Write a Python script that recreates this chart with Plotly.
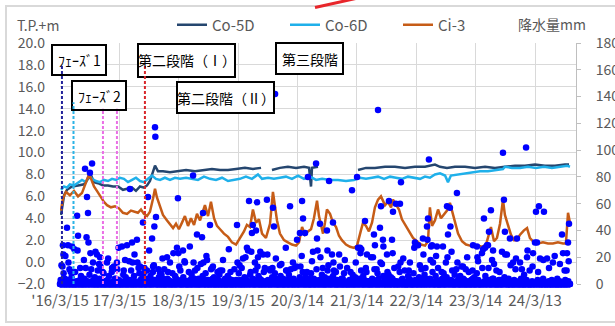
import pandas as pd
import plotly.graph_objects as go

# Observation start; all day numbers below count days from this date
START = pd.Timestamp("2016-03-15")
LAST_DAY = 3135

# Groundwater level (T.P.+m)
co5d_day = [6, 12, 25, 43, 74, 111, 148, 172, 191, 209, 234, 264, 295, 326, 357, 387, 418, 443, 467, 492,
            516, 535, 553, 572, 584, 602, 633, 676, 725, 775, 830, 885, 934, 984, 1033, 1082, 1137, 1186, 1236, 1242,
            1303, 1352, 1401, 1451, 1500, 1531, 1543, 1549, 1586, 1592, 1832, 1881, 1936, 1998, 2059, 2121, 2182, 2244,
            2305, 2336, 2379, 2428, 2490, 2551, 2613, 2674, 2735, 2797, 2858, 2920, 2981, 3043, 3104, 3129]
co5d_lv = [4.3, 4.9, 6.1, 6.6, 6.9, 7.0, 7.1, 7.6, 7.9, 7.3, 7.2, 7.0, 7.0, 6.9, 6.9, 6.6, 6.7, 6.8, 6.5, 6.9,
           6.8, 7.0, 7.4, 8.2, 8.8, 8.3, 8.3, 8.2, 8.3, 8.4, 8.3, 8.4, 8.5, 8.4, 8.4, 8.5, 8.6, 8.5, 8.6, None,
           8.4, 8.6, 8.7, 8.6, 8.7, 8.6, 6.9, 8.6, 8.7, None, 8.4, 8.6, 8.6, 8.7, 8.7, 8.6, 8.7, 8.7,
           8.9, 8.7, 8.6, 8.7, 8.7, 8.6, 8.7, 8.6, 8.7, 8.8, 8.8, 8.9, 8.8, 8.8, 8.9, 8.9]

co6d_day = [6, 25, 43, 61, 86, 111, 135, 160, 178, 197, 221, 246, 270, 295, 320, 344, 369, 393, 418, 443,
            467, 492, 516, 541, 566, 590, 615, 645, 676, 707, 738, 775, 811, 848, 885, 922, 959, 996, 1033, 1070,
            1106, 1143, 1180, 1217, 1242, 1279, 1315, 1352, 1389, 1426, 1463, 1500, 1537, 1574, 1611, 1660, 1709,
            1758, 1807, 1844, 1881, 1918, 1955, 1992, 2029, 2065, 2102, 2139, 2176, 2213, 2244, 2274, 2305, 2336,
            2367, 2385, 2403, 2447, 2490, 2533, 2582, 2631, 2680, 2723, 2735, 2778, 2828, 2877, 2926, 2975, 3024,
            3074, 3117, 3135]
co6d_lv = [6.6, 6.9, 6.8, 7.1, 7.0, 7.3, 7.5, 7.3, 7.9, 7.6, 7.4, 7.3, 7.5, 7.4, 7.6, 7.5, 7.7, 7.6, 7.3, 7.5,
           7.7, 7.4, 7.3, 7.6, 7.9, 7.6, 7.5, 7.7, 7.5, 7.7, 7.6, 7.7, 7.6, 7.5, 7.8, 7.6, 7.5, 7.7, 7.4, 7.5,
           7.6, 7.8, 7.6, 8.0, 7.6, 7.7, 7.6, 7.7, 7.8, 7.6, 7.9, 7.6, 7.8, 7.5, 7.6, 7.5, 7.5,
           7.4, 7.5, 7.7, 7.6, 7.7, 7.8, 7.6, 7.8, 7.7, 7.6, 7.8, 7.7, 7.6, 7.8, 7.7, 8.0, 8.1,
           7.9, 7.3, 7.9, 8.0, 8.1, 8.2, 8.3, 8.3, 8.4, 8.5, 8.7, 8.6, 8.6, 8.7, 8.6, 8.7, 8.6,
           8.7, 8.8, 8.7]

ci3_day = [6, 18, 37, 61, 86, 111, 135, 160, 178, 191, 209, 227, 246, 270, 289, 313, 338, 363, 387, 412,
           436, 461, 479, 498, 516, 535, 553, 572, 584, 596, 615, 633, 658, 676, 695, 713, 731, 750, 768, 787,
           805, 824, 842, 861, 879, 891, 910, 928, 947, 965, 984, 1008, 1033, 1057, 1082, 1106, 1131, 1149, 1168, 1186,
           1205, 1223, 1242, 1266, 1291, 1309, 1322, 1334, 1352, 1377, 1401, 1426, 1451, 1469, 1488, 1506, 1524, 1543,
           1561, 1580, 1592, 1604, 1617, 1629, 1641, 1660, 1678, 1697, 1715, 1733, 1758, 1783, 1807, 1826, 1838, 1850,
           1863, 1881, 1899, 1918, 1936, 1955, 1973, 1985, 1998, 2016, 2035, 2047, 2065, 2084, 2102, 2121, 2145, 2170,
           2194, 2219, 2244, 2262, 2274, 2287, 2305, 2324, 2342, 2360, 2379, 2397, 2410, 2428, 2447, 2471, 2496, 2520,
           2545, 2569, 2594, 2619, 2637, 2649, 2668, 2686, 2705, 2723, 2735, 2754, 2772, 2791, 2809, 2828, 2852, 2871,
           2889, 2914, 2938, 2969, 3000, 3030, 3061, 3092, 3110, 3123, 3135]
ci3_lv = [4.7, 5.8, 6.4, 6.1, 6.5, 6.0, 6.3, 7.2, 8.0, 7.6, 6.9, 6.5, 6.0, 5.5, 5.2, 5.0, 5.1, 4.9, 4.5, 4.4,
          4.7, 4.6, 4.5, 4.8, 4.4, 4.2, 4.6, 5.8, 6.7, 5.9, 5.0, 4.3, 3.8, 3.4, 3.1, 3.5, 3.0, 3.6, 4.2, 3.3,
          4.0, 3.4, 4.4, 3.8, 4.6, 5.2, 4.2, 5.5, 4.0, 3.3, 3.0, 2.6, 2.3, 1.8, 1.6, 2.2, 2.8, 3.4, 3.2, 4.8,
          3.6, 3.9, 2.6, 2.2, 3.5, 6.4, 4.8, 3.8, 2.6, 2.0, 1.8, 1.6, 1.5, 1.8, 3.2, 2.5, 2.8, 3.0,
          4.0, 5.6, 4.2, 3.4, 2.6, 3.6, 4.8, 4.4, 3.6, 3.2, 2.4, 2.0, 1.6, 1.4, 1.3, 1.5, 2.3, 2.9,
          3.6, 3.3, 2.8, 3.6, 5.0, 5.7, 6.0, 5.6, 5.2, 5.5, 5.0, 5.7, 5.2, 4.8, 3.9, 3.4, 2.8, 2.2,
          1.9, 1.6, 1.5, 1.9, 5.0, 3.3, 3.8, 4.8, 4.0, 4.4, 4.7, 5.4, 4.6, 3.5, 2.6, 1.9, 1.6, 1.5,
          1.4, 1.5, 1.4, 1.6, 2.6, 3.2, 1.9, 2.2, 3.5, 5.7, 4.3, 3.4, 2.5, 2.0, 2.0, 2.5, 2.9, 3.1,
          2.2, 1.8, 1.7, 1.8, 1.7, 1.7, 1.8, 1.7, 1.7, 4.5, 3.6]

# Daily rainfall (mm): days with notable rain
rain_day = [584, 586, 1322, 1955, 2723, 2865, 2268, 2440, 1574, 1524, 1654, 1795, 1826, 2096, 154, 197, 184, 166,
            105, 172, 430, 541, 590, 580, 725, 818, 879, 922, 1088, 510, 43,
            1162, 1211, 1272, 1309, 1414, 1488, 1494, 1315, 1186, 1205, 1180, 1457, 1475, 1598, 1580, 1641, 1678,
            1875, 1930, 1967, 1973, 2022, 2047, 2065, 2090, 1985, 2041, 1936, 1149, 1844, 2256, 2231, 2182,
            2262, 2281, 2317, 2354, 2379, 2397, 2385, 2400, 2563, 2606, 2649, 2637, 2631, 2613, 2729, 2735, 2766,
            2809, 2920, 2932, 2926, 2944, 2975, 3086, 3129, 3123,
            18, 49, 74, 108, 163, 175, 111, 21, 52, 15, 187, 227, 246, 203, 249, 289, 320, 350, 381, 412, 443, 473,
            400, 446, 476, 492, 535, 566, 572, 615, 658, 676, 719, 728, 756, 768, 821, 842, 873, 882, 904, 940, 984,
            1091, 1125, 1156, 1176, 1217, 1248, 1275, 1214, 1306, 1352, 1395, 1432, 1478,
            1506, 1555, 1601, 1644, 1672, 1681, 1721, 1832, 1847, 1887, 1924, 1970, 2010, 1988, 2093, 2151, 2201,
            2234, 2259, 2287, 2293, 2382, 2443, 2477, 2539, 2566, 2594, 2625, 2656, 2662, 2717, 2748, 2785, 2828,
            2871, 2908, 2951, 2994, 3030, 3092, 3117, 3114]
rain_mm = [117, 110, 142, 130, 98, 102, 93, 68, 90, 80, 77, 70, 80, 76, 86, 90, 83, 65,
           51, 53, 71, 65, 50, 43, 64, 81, 53, 44, 44, 46, 42,
           62, 61, 63, 57, 58, 62, 49, 43, 44, 40, 38, 33, 38, 45, 34, 40, 46,
           47, 37, 42, 58, 62, 54, 60, 60, 33, 33, 29, 27, 27, 43, 34, 31,
           49, 28, 28, 28, 58, 57, 37, 43, 28, 49, 55, 39, 29, 27, 63, 39, 34,
           34, 31, 31, 54, 58, 54, 37, 45, 31,
           29, 29, 28, 25, 35, 31, 36, 22, 16, 13, 23, 22, 20, 16, 13, 16, 12, 16, 28, 29, 31, 33,
           18, 16, 16, 13, 10, 34, 13, 8, 20, 16, 27, 23, 25, 16, 16, 37, 35, 16, 18, 13, 10,
           16, 19, 25, 24, 20, 22, 22, 13, 12, 14, 10, 16, 13,
           38, 24, 20, 25, 22, 16, 13, 27, 23, 22, 20, 16, 22, 28, 16, 16, 29,
           22, 33, 29, 16, 20, 16, 13, 29, 20, 23, 29, 18, 25, 24, 22, 16, 16,
           20, 23, 19, 19, 16, 23, 23, 10]

# Moderate-rain days (mm)
mid_day = [9, 33, 66, 88, 124, 147, 192, 218, 240, 262, 296, 331, 360, 392, 425, 458, 483, 514, 548, 577,
           605, 630, 664, 697, 733, 765, 798, 830, 866, 900, 935, 968, 1002, 1038, 1072, 1104, 1140, 1172, 1198,
           1231, 1259, 1292, 1327, 1361, 1388, 1419, 1452, 1486, 1518, 1549, 1583, 1615, 1650, 1684, 1716, 1751,
           1786, 1818, 1852, 1880, 1912, 1946, 1979, 2013, 2045, 2079, 2110, 2144, 2178, 2212, 2247, 2278, 2312,
           2346, 2372, 2407, 2436, 2468, 2503, 2536, 2570, 2601, 2634, 2668, 2702, 2737, 2770, 2803, 2839, 2874,
           2905, 2939, 2971, 3006, 3041, 3073, 3102, 3127]
mid_mm = [14, 21, 9, 26, 12, 18, 11, 24, 15, 9, 19, 13, 27, 10, 17, 22, 12, 8, 25, 14,
          11, 19, 9, 23, 13, 17, 28, 10, 15, 21, 12, 9, 18, 26, 11, 14, 20, 9, 16,
          24, 12, 10, 19, 15, 27, 11, 13, 21, 9, 17, 25, 12, 14, 10, 22, 18,
          9, 16, 26, 12, 20, 11, 15, 9, 23, 13, 19, 10, 27, 14, 12, 18, 21,
          9, 16, 24, 11, 13, 20, 10, 17, 26, 12, 15, 9, 22, 14, 19, 11, 25,
          13, 9, 18, 12, 21, 15, 10, 17]

# Light-rain days (mm)
light_day = [4, 22, 37, 58, 71, 93, 116, 129, 141, 158, 181, 199, 214, 232, 255, 268, 283, 301, 318, 337,
             352, 370, 389, 404, 421, 437, 455, 469, 488, 503, 519, 538, 556, 571, 593, 608, 624, 641, 660, 673,
             691, 707, 722, 740, 758, 776, 792, 809, 826, 845, 861, 877, 895, 912, 929, 947, 963, 980, 997, 1015,
             1031, 1048, 1066, 1083, 1099, 1117, 1134, 1151, 1169, 1185, 1202, 1220, 1237, 1253, 1271, 1288, 1304,
             1321, 1339, 1356, 1372, 1390, 1407, 1423, 1441, 1458, 1474, 1492, 1509, 1525, 1543, 1560, 1577, 1594,
             1610, 1628, 1645, 1662, 1679, 1696, 1713, 1731, 1746, 1765, 1780, 1799, 1814, 1833, 1851, 1864, 1884,
             1898, 1919, 1933, 1952, 1967, 1987, 2001, 2020, 2034, 2055, 2069, 2088, 2105, 2119, 2140, 2154, 2173,
             2188, 2207, 2222, 2241, 2256, 2275, 2290, 2309, 2324, 2343, 2358, 2377, 2392, 2411, 2426, 2445, 2460,
             2479, 2494, 2513, 2528, 2547, 2562, 2581, 2596, 2615, 2630, 2649, 2664, 2683, 2698, 2717, 2732, 2751,
             2766, 2785, 2800, 2819, 2834, 2853, 2868, 2887, 2902, 2921, 2936, 2955, 2970, 2989, 3004, 3023, 3038,
             3057, 3072, 3091, 3106, 3125]
light_mm = [3, 8, 2, 11, 5, 9, 1, 6, 4, 12, 7, 2, 5, 10, 3, 8, 1, 6, 9, 4,
            11, 2, 7, 5, 3, 10, 6, 1, 8, 4, 12, 3, 6, 9, 2, 5, 7, 11, 4, 1,
            8, 6, 3, 10, 5, 2, 9, 7, 4, 12, 1, 6, 8, 3, 11, 5, 2, 7, 10, 4,
            6, 9, 1, 3, 8, 12, 5, 2, 7, 4, 10, 6, 3, 9, 1, 11, 5, 8, 2, 6,
            4, 10, 7, 3, 12, 1, 5, 9, 6, 2, 8, 4, 11, 3, 7, 5, 10, 1, 6, 9,
            2, 4, 8, 12, 3, 7, 5, 1, 10, 6, 9, 2, 4, 11, 8, 3, 6, 1, 7, 5,
            12, 2, 9, 4, 10, 6, 3, 8, 1, 5, 11, 7, 2, 4, 9, 6, 12, 3, 8, 5,
            1, 10, 7, 2, 6, 4, 11, 9, 3, 5, 8, 1, 12, 6, 2, 7, 4, 10, 3, 9,
            5, 1, 8, 6, 11, 2, 4, 7, 3, 10]

# Drizzle days (mm)
drizzle_day = [12, 30, 47, 64, 82, 101, 122, 135, 150, 169, 190, 206, 223, 243, 261, 276, 292, 309, 327, 344,
               361, 379, 396, 413, 429, 446, 462, 479, 495, 511, 528, 547, 563, 582, 600, 616, 632, 650, 666, 682,
               699, 714, 731, 749, 767, 784, 800, 817, 835, 853, 869, 886, 903, 920, 938, 955, 971, 988, 1006, 1023,
               1039, 1057, 1074, 1094, 1108, 1126, 1142, 1160, 1177, 1194, 1209, 1228, 1245, 1262, 1279, 1296, 1313,
               1330, 1347, 1364, 1381, 1398, 1415, 1436, 1449, 1466, 1483, 1500, 1517, 1534, 1551, 1568, 1588, 1606,
               1619, 1636, 1657, 1670, 1690, 1704, 1725, 1738, 1755, 1772, 1789, 1806, 1823, 1840, 1857, 1871, 1891,
               1908, 1928, 1942, 1959, 1976, 1993, 2006, 2027, 2044, 2061, 2078, 2099, 2112, 2129, 2146, 2163, 2185,
               2197, 2214, 2228, 2248, 2265, 2284, 2299, 2314, 2333, 2350, 2367, 2389, 2404, 2418, 2435, 2452, 2469,
               2486, 2508, 2520, 2537, 2554, 2571, 2588, 2609, 2622, 2641, 2659, 2673, 2690, 2707, 2726, 2741, 2758,
               2775, 2792, 2812, 2826, 2843, 2860, 2880, 2894, 2911, 2929, 2947, 2962, 2979, 2999, 3013, 3033, 3047,
               3064, 3081, 3098, 3111, 3131]
drizzle_mm = [2, 1, 3, 2, 4, 1, 2, 3, 1, 4, 2, 1, 3, 2, 1, 4, 3, 2, 1, 2,
              3, 1, 4, 2, 1, 3, 2, 4, 1, 2, 3, 1, 2, 4, 3, 1, 2, 1, 3, 4,
              2, 1, 3, 2, 4, 1, 2, 3, 1, 2, 4, 1, 3, 2, 1, 4, 2, 3, 1, 2,
              3, 2, 1, 4, 2, 1, 3, 2, 4, 1, 3, 2, 1, 2, 4, 3, 1,
              2, 3, 1, 4, 2, 1, 3, 2, 4, 1, 2, 3, 1, 2, 4, 3,
              1, 2, 3, 1, 4, 2, 1, 3, 2, 1, 4, 2, 3, 1, 2, 3, 1,
              4, 2, 1, 3, 2, 4, 1, 2, 3, 1, 2, 4, 1, 3, 2, 1,
              3, 2, 4, 1, 2, 3, 1, 4, 2, 1, 3, 2, 1, 4, 2, 3,
              1, 2, 3, 4, 1, 2, 1, 3, 2, 4, 1, 2, 3, 1, 2, 4,
              1, 3, 2, 1, 4, 2, 3, 1, 2, 1, 3, 4, 2, 1, 3, 2,
              1, 4, 2, 3, 1]

# Construction phase boundaries (vertical dashed markers)
phase_day = [12, 83, 264, 350, 522]
phase_top = [18.0, 14.6, 14.0, 14.0, 17.9]
phase_color = ["#23239b", "#2bb3e6", "#ea6fe6", "#ea6fe6", "#d8272b"]

# Year ticks
tick_day = [0, 365, 730, 1095, 1460, 1825, 2190, 2555, 2920]
tick_text = ["'16/3/15", "17/3/15", "18/3/15", "19/3/15", "20/3/14", "21/3/14", "22/3/14", "23/3/14", "24/3/13"]
AXIS_END_DAY = 3172


def to_dates(days):
    return [START + pd.Timedelta(days=int(d)) for d in days]


# daily rainfall record; days without listed rain are dry (0 mm)
rain_by_day = {}
for d, mm in zip(rain_day + mid_day + light_day + drizzle_day, rain_mm + mid_mm + light_mm + drizzle_mm):
    rain_by_day[d] = max(mm, rain_by_day.get(d, 0))
all_days = list(range(0, LAST_DAY + 1))
rain_daily = [rain_by_day.get(d, 0) for d in all_days]

FONT = "Noto Sans CJK JP"
GREY = "#595959"
W, H = 615, 326
PL, PT, PW, PH = 60, 43, 516, 241


def fx(xp):
    return (xp - PL) / PW


def fy(yp):
    return (PT + PH - yp) / PH


fig = go.Figure()
fig.add_trace(go.Scatter(x=to_dates(co5d_day), y=co5d_lv, name="Co-5D", mode="lines",
                         line=dict(color="#25466f", width=2.5), connectgaps=False))
fig.add_trace(go.Scatter(x=to_dates(co6d_day), y=co6d_lv, name="Co-6D", mode="lines",
                         line=dict(color="#1fb0ea", width=2.5)))
fig.add_trace(go.Scatter(x=to_dates(ci3_day), y=ci3_lv, name="Ci-3", mode="lines",
                         line=dict(color="#c65c17", width=2.5)))
fig.add_trace(go.Scatter(x=to_dates(all_days), y=rain_daily, name="降水量", mode="markers",
                         marker=dict(color="#0000ff", size=6.5, line=dict(width=0)),
                         yaxis="y2", showlegend=False, cliponaxis=False))

shapes = []
# outer chart frame
shapes.append(dict(type="rect", xref="paper", yref="paper", x0=fx(6), x1=fx(625), y0=fy(322), y1=fy(6),
                   line=dict(color="#d9d9d9", width=2), fillcolor="rgba(0,0,0,0)", layer="below"))

# phase label boxes
boxes = [
    ("ﾌｪｰｽﾞ1", 52, 106, 45, 75),
    ("ﾌｪｰｽﾞ2", 72, 126, 81, 110),
    ("第二段階（Ⅰ）", 138, 235, 44, 77),
    ("第二段階（Ⅱ）", 177, 274, 82, 113),
    ("第三段階", 276, 343, 43, 74),
]
annotations = []
for text, x0, x1, y0, y1 in boxes:
    shapes.append(dict(type="rect", xref="paper", yref="paper", x0=fx(x0), x1=fx(x1), y0=fy(y1), y1=fy(y0),
                       line=dict(color="black", width=2), fillcolor="white", layer="above"))
    annotations.append(dict(text=text, xref="paper", yref="paper", x=fx((x0 + x1) / 2), y=fy((y0 + y1) / 2),
                            xanchor="center", yanchor="middle", showarrow=False,
                            font=dict(family=FONT, size=14, color="black")))

for d, top, col in zip(phase_day, phase_top, phase_color):
    dt = START + pd.Timedelta(days=d)
    shapes.append(dict(type="line", xref="x", yref="y", x0=dt, x1=dt, y0=-2.0, y1=top,
                       line=dict(color=col, width=2, dash="3px,2px"), layer="above"))

# red stroke crossing the top edge
shapes.append(dict(type="line", xref="paper", yref="paper", x0=fx(315), y0=fy(7.5), x1=fx(358), y1=fy(-2),
                   line=dict(color="#e8262b", width=3), layer="above"))

annotations.append(dict(text="T.P.+m", xref="paper", yref="paper", x=fx(38), y=fy(25), xanchor="center",
                        yanchor="middle", showarrow=False, font=dict(family=FONT, size=14, color=GREY)))
annotations.append(dict(text="降水量mm", xref="paper", yref="paper", x=fx(552), y=fy(24), xanchor="center",
                        yanchor="middle", showarrow=False, font=dict(family=FONT, size=14, color=GREY)))

fig.update_layout(
    width=W, height=H, autosize=False,
    margin=dict(l=PL, r=W - PL - PW, t=PT, b=H - PT - PH, autoexpand=False),
    paper_bgcolor="white", plot_bgcolor="white",
    font=dict(family=FONT, size=14, color=GREY),
    showlegend=True,
    legend=dict(orientation="h", x=fx(172), y=fy(25), xanchor="left", yanchor="middle",
                font=dict(family=FONT, size=15, color=GREY), bgcolor="rgba(0,0,0,0)",
                itemwidth=30, tracegroupgap=0, entrywidth=68, entrywidthmode="pixels"),
    xaxis=dict(type="date", range=[START, START + pd.Timedelta(days=AXIS_END_DAY)],
               tickvals=to_dates(tick_day), ticktext=tick_text, tickangle=0, automargin=False,
               showgrid=True, gridcolor="#d9d9d9", gridwidth=1, showline=False, zeroline=False,
               ticks="", ticklabelstandoff=6, tickfont=dict(family=FONT, size=15, color=GREY)),
    yaxis=dict(range=[-2, 20], tickvals=[-2, 0, 2, 4, 6, 8, 10, 12, 14, 16, 18, 20], tickformat=".1f",
               showgrid=True, gridcolor="#d9d9d9", gridwidth=1, zeroline=False, showline=False, automargin=False,
               ticks="", ticklabelstandoff=14, tickfont=dict(family=FONT, size=14, color=GREY)),
    yaxis2=dict(range=[0, 180], tickvals=list(range(0, 181, 20)), overlaying="y", side="right",
                showgrid=False, zeroline=False, showline=True, linecolor="#bfbfbf", linewidth=1, automargin=False,
                ticks="outside", ticklen=4, tickcolor="#bfbfbf", ticklabelstandoff=12,
                tickfont=dict(family=FONT, size=14, color=GREY)),
    shapes=shapes,
    annotations=annotations,
)

fig.write_html("out.html", config=dict(displayModeBar=False))
